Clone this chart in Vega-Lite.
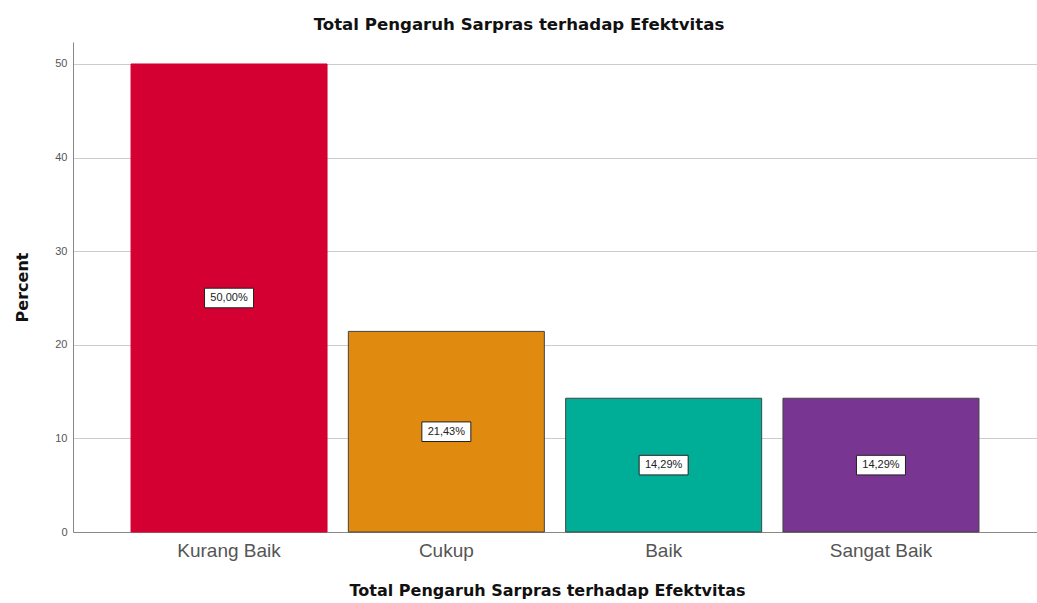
{
  "$schema": "https://vega.github.io/schema/vega-lite/v6.json",
  "width": 964,
  "height": 490,
  "autosize": {"type": "none"},
  "padding": {"left": 73, "top": 42, "right": 0, "bottom": 71},
  "background": "white",
  "title": {
    "text": "Total Pengaruh Sarpras terhadap Efektvitas",
    "font": "DejaVu Sans",
    "fontSize": 16.6,
    "fontWeight": "bold",
    "color": "#111111",
    "anchor": "middle",
    "dx": -36,
    "offset": 8
  },
  "data": {
    "values": [
      {"kategori": "Kurang Baik", "persen": 50.0, "label": "50,00%"},
      {"kategori": "Cukup", "persen": 21.43, "label": "21,43%"},
      {"kategori": "Baik", "persen": 14.29, "label": "14,29%"},
      {"kategori": "Sangat Baik", "persen": 14.29, "label": "14,29%"}
    ]
  },
  "config": {
    "view": {"stroke": null},
    "axis": {"labelFont": "Liberation Sans", "titleFont": "DejaVu Sans"}
  },
  "encoding": {
    "x": {
      "field": "kategori",
      "type": "nominal",
      "sort": ["Kurang Baik", "Cukup", "Baik", "Sangat Baik"],
      "scale": {"paddingInner": 0.098, "paddingOuter": 0.267},
      "axis": {
        "title": "Total Pengaruh Sarpras terhadap Efektvitas",
        "titleFontSize": 16,
        "titleFontWeight": "bold",
        "titleColor": "#111111",
        "titlePadding": 22,
        "titleX": 474,
        "labelAngle": 0,
        "labelFontSize": 19,
        "labelColor": "#555555",
        "labelPadding": 9,
        "ticks": false,
        "domainColor": "#888888",
        "domainWidth": 1
      }
    }
  },
  "layer": [
    {
      "mark": {"type": "bar", "strokeWidth": 1},
      "encoding": {
        "y": {
          "field": "persen",
          "type": "quantitative",
          "scale": {"domain": [0, 52.35], "nice": false},
          "axis": {
            "title": "Percent",
            "titleFontSize": 16,
            "titleFontWeight": "bold",
            "titleColor": "#111111",
            "titlePadding": 24,
            "values": [0, 10, 20, 30, 40, 50],
            "labelFontSize": 11,
            "labelColor": "#555555",
            "labelPadding": 6,
            "ticks": false,
            "domainColor": "#888888",
            "gridColor": "#cccccc",
            "gridWidth": 1
          }
        },
        "color": {
          "field": "kategori",
          "type": "nominal",
          "scale": {
            "domain": ["Kurang Baik", "Cukup", "Baik", "Sangat Baik"],
            "range": ["#D50032", "#E08A0F", "#00AE98", "#793592"]
          },
          "legend": null
        },
        "stroke": {
          "field": "kategori",
          "type": "nominal",
          "scale": {
            "domain": ["Kurang Baik", "Cukup", "Baik", "Sangat Baik"],
            "range": ["#D50032", "#444444", "#444444", "#444444"]
          },
          "legend": null
        }
      }
    },
    {
      "transform": [{"calculate": "datum.persen / 2", "as": "tengah"}],
      "mark": {
        "type": "point",
        "shape": "M-1,-0.4L1,-0.4L1,0.4L-1,0.4Z",
        "size": 2400,
        "filled": true,
        "fill": "white",
        "stroke": "#222222",
        "strokeWidth": 1,
        "opacity": 1
      },
      "encoding": {
        "y": {"field": "tengah", "type": "quantitative"}
      }
    },
    {
      "transform": [{"calculate": "datum.persen / 2", "as": "tengah"}],
      "mark": {
        "type": "text",
        "font": "Liberation Sans",
        "fontSize": 11,
        "color": "#222222",
        "baseline": "middle",
        "align": "center"
      },
      "encoding": {
        "y": {"field": "tengah", "type": "quantitative"},
        "text": {"field": "label"}
      }
    }
  ]
}
